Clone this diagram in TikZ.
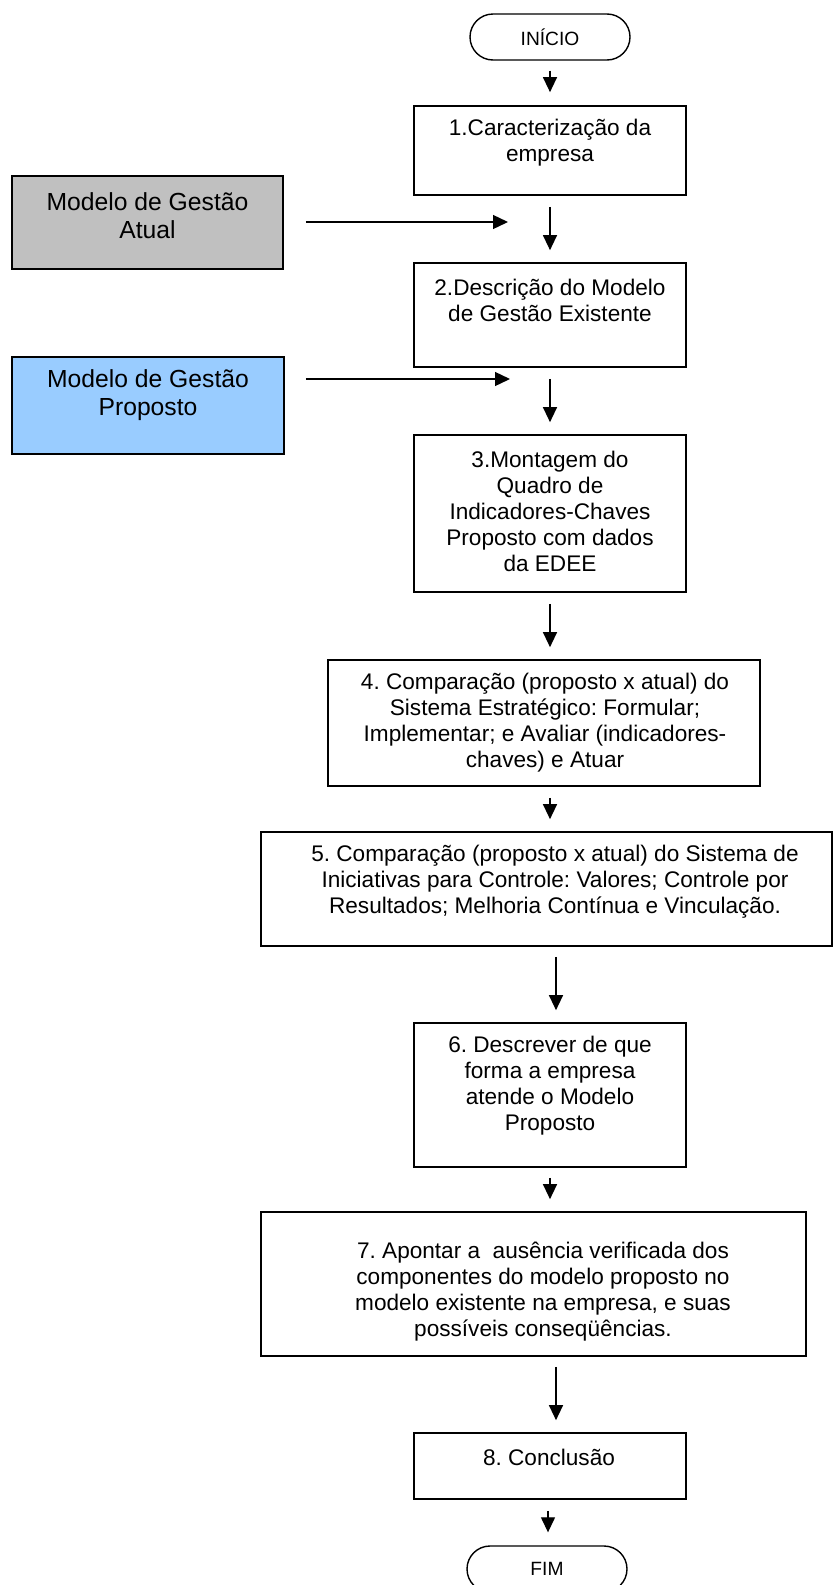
\documentclass[tikz,border=0pt]{standalone}
\usepackage{fontspec}
\setmainfont{Liberation Sans}
\usetikzlibrary{arrows.meta,shapes.misc}
\definecolor{atualgrey}{HTML}{C0C0C0}
\definecolor{propblue}{HTML}{99CCFF}
\frenchspacing
\begin{document}
\begin{tikzpicture}[x=1pt,y=-1pt,
  box/.style={draw, rectangle, line width=1.7pt, inner sep=0pt},
  term/.style={draw, rounded rectangle, line width=1.4pt, inner sep=0pt,
    minimum width=160pt, minimum height=46pt, font=\fontsize{19.2}{22}\selectfont},
  txt/.style={align=center, inner sep=0pt, font=\fontsize{22.6}{26}\selectfont},
  sidetxt/.style={align=center, inner sep=0pt, font=\fontsize{24.7}{28.3}\selectfont},
  arr/.style={line width=1.3pt, -{Triangle[length=15pt,width=14pt]},
    shorten <=11pt, shorten >=12pt},
  sidearr/.style={line width=1.3pt, -{Triangle[length=15pt,width=14pt]}}]

\useasboundingbox (0,0) rectangle (833,1585);
\clip (0,0) rectangle (833,1585);
\fill[white] (0,0) rectangle (833,1585);

% vertical axes of the connectors
\coordinate (axis) at (550,0);
\coordinate (axisr) at (556,0);
\coordinate (axisf) at (548,0);

% terminals
\node[term] (start) at (550,37) {INÍCIO};
\node[term] (end) at (547,1569) {FIM};

% process boxes
\node[box, minimum width=272pt, minimum height=89pt]  (b1) at (550,150.5) {};
\node[box, minimum width=272pt, minimum height=104pt] (b2) at (550,315) {};
\node[box, minimum width=272pt, minimum height=157pt] (b3) at (550,513.5) {};
\node[box, minimum width=432pt, minimum height=126pt] (b4) at (544,723) {};
\node[box, minimum width=571pt, minimum height=114pt] (b5) at (546.5,889) {};
\node[box, minimum width=272pt, minimum height=144pt] (b6) at (550,1095) {};
\node[box, minimum width=545pt, minimum height=144pt] (b7) at (533.5,1284) {};
\node[box, minimum width=272pt, minimum height=66pt]  (b8) at (550,1466) {};

% management model inputs
\node[box, fill=atualgrey, minimum width=271pt, minimum height=93pt] (grey) at (147.5,222.5) {};
\node[box, fill=propblue, minimum width=272pt, minimum height=97pt] (blue) at (148,405.5) {};

% box texts
\node[txt] (t1) at (550,143) {1.Caracterização da\\empresa};
\node[txt] (t2) at (550,300) {2.Descrição do Modelo\\de Gestão Existente};
\node[txt] (t3) at (550,511) {3.Montagem do\\Quadro de\\Indicadores-Chaves\\Proposto com dados\\da EDEE};
\node[txt] (t4) at (545,723) {4. Comparação (proposto x atual) do\\Sistema Estratégico: Formular;\\Implementar; e Avaliar (indicadores-\\chaves) e Atuar};
\node[txt] (t5) at (555,882) {5. Comparação (proposto x atual) do Sistema de\\Iniciativas para Controle: Valores; Controle por\\Resultados; Melhoria Contínua e Vinculação.};
\node[txt] (t6) at (550,1086) {6. Descrever de que\\forma a empresa\\atende o Modelo\\Proposto};
\node[txt] (t7) at (543,1292) {7. Apontar a~ ausência verificada dos\\componentes do modelo proposto no\\modelo existente na empresa, e suas\\possíveis conseqüências.};
\node[txt] (t8) at (549,1457) {8. Conclusão};
\node[sidetxt] (tg) at (147.5,216) {Modelo de Gestão\\Atual};
\node[sidetxt] (tb) at (148,395) {Modelo de Gestão\\Proposto};

% main flow
\draw[arr, shorten <=10pt, shorten >=13pt] (start.south -| axis) -- (b1.north -| axis);
\draw[arr] (b1.south -| axis) -- (b2.north -| axis);
\draw[arr] (b2.south -| axis) -- (b3.north -| axis);
\draw[arr] (b3.south -| axis) -- (b4.north -| axis);
\draw[arr] (b4.south -| axis) -- (b5.north -| axis);
\draw[arr, shorten <=10pt] (b5.south -| axisr) -- (b6.north -| axisr);
\draw[arr, shorten <=10pt] (b6.south -| axis) -- (b7.north -| axis);
\draw[arr, shorten <=10pt] (b7.south -| axisr) -- (b8.north -| axisr);
\draw[arr, shorten >=13pt] (b8.south -| axisf) -- (end.north -| axisf);

% side inputs
\coordinate (gend) at (508,222);
\coordinate (bend) at (510,379);
\draw[sidearr, shorten <=22pt] (grey.east |- gend) -- (gend);
\draw[sidearr, shorten <=21pt] (blue.east |- bend) -- (bend);
\end{tikzpicture}
\end{document}
